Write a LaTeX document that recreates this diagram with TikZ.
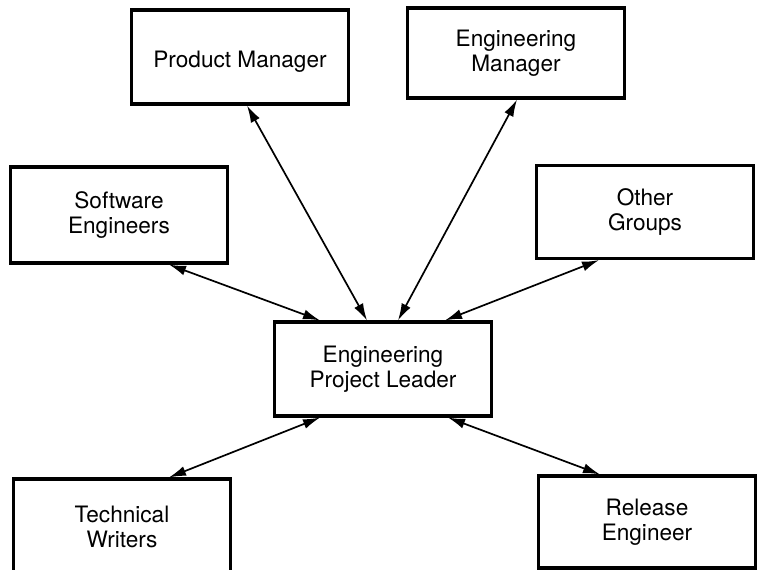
\documentclass[tikz,border=0pt]{standalone}
\usepackage{fontspec}
\setmainfont{TeX Gyre Heros}
\usetikzlibrary{calc, arrows.meta}

\begin{document}
\begin{tikzpicture}[x=1pt, y=-1pt,
    link/.style={line width=1.7pt, {Latex[length=17pt, width=10pt]}-{Latex[length=17pt, width=10pt]}}]
    \tikzstyle{role} = [rectangle, draw, line width=3.2pt, inner sep=0pt, align=center,
        minimum width=217pt, minimum height=94pt, font=\fontsize{22.6}{25}\selectfont]

    \clip (0, 0) rectangle (758, 570);

    % Roles ----------------------------------------
    \node (PM) at (240, 57) [role, minimum height=94pt] {\raisebox{-5pt}[\height][\depth]{Product Manager}};
    \node (EM) at (516, 53) [role, minimum height=90pt] {Engineering\\Manager};
    \node (SE) at (119, 215) [role, minimum height=96pt] {Software\\Engineers};
    \node (OG) at (645, 212) [role, minimum height=93pt] {Other\\Groups};
    \node (EPL) at (383, 369) [role] {Engineering\\Project Leader};
    \node (TW) at (122, 527) [role, minimum height=96pt] {Technical\\Writers};
    \node (RE) at (647, 522) [role, minimum height=92pt] {Release\\Engineer};
    % ---------------------------------------------------

    % Links to the project leader
    \draw [link] ($(PM.south) + (7, 0)$) -- ($(EPL.north) + (-16, 0)$);
    \draw [link] ($(EM.south) + (1, 0)$) -- ($(EPL.north) + (15, 0)$);
    \draw [link] ($(SE.south) + (50, 0)$) -- ($(EPL.north) + (-63, 0)$);
    \draw [link] ($(OG.south) + (-46, 0)$) -- ($(EPL.north) + (62, 0)$);
    \draw [link] ($(TW.north) + (47, 0)$) -- ($(EPL.south) + (-63, 0)$);
    \draw [link] ($(RE.north) + (-47, 0)$) -- ($(EPL.south) + (65, 0)$);
\end{tikzpicture}
\end{document}
